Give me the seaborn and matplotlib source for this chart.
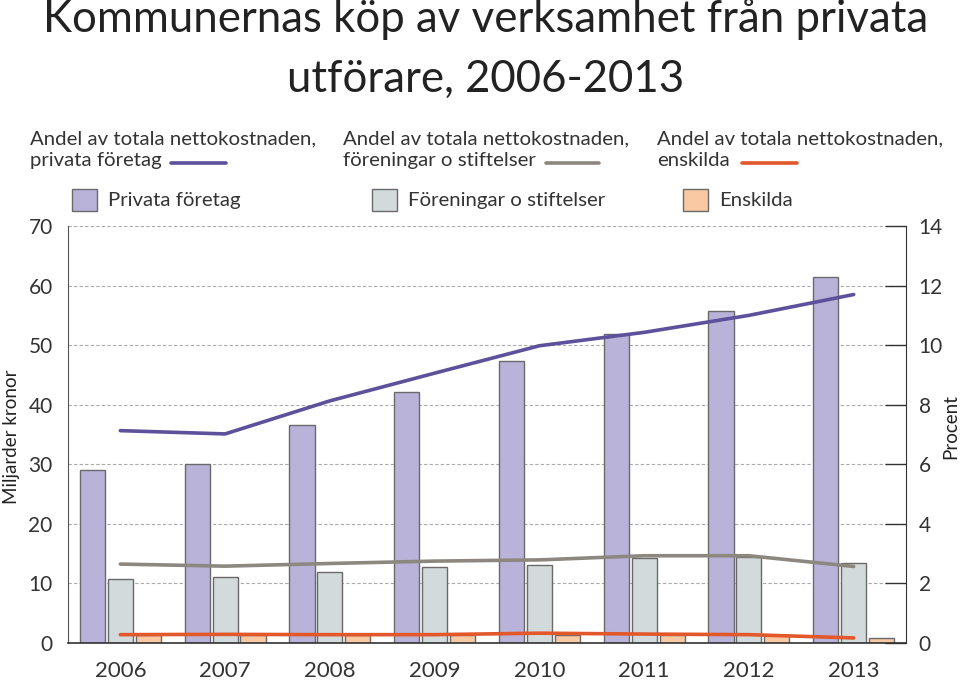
import matplotlib
matplotlib.use('Agg')
import matplotlib.pyplot as plt
import seaborn as sns
import pandas as pd
import numpy as np
from matplotlib.lines import Line2D
from matplotlib.patches import Rectangle

# Data
years = ['2006', '2007', '2008', '2009', '2010', '2011', '2012', '2013']
privata_mdkr = [29.0, 30.0, 36.6, 42.1, 47.4, 51.8, 55.8, 61.4]
foreningar_mdkr = [10.7, 11.0, 11.9, 12.7, 13.1, 14.2, 14.5, 13.5]
enskilda_mdkr = [1.3, 1.3, 1.3, 1.3, 1.3, 1.3, 1.3, 0.9]
privata_andel = [7.13, 7.02, 8.13, 9.06, 9.98, 10.43, 11.0, 11.7]
foreningar_andel = [2.65, 2.58, 2.67, 2.75, 2.79, 2.93, 2.93, 2.57]
enskilda_andel = [0.28, 0.29, 0.28, 0.28, 0.33, 0.30, 0.28, 0.17]

bar_labels = ['Privata företag', 'Föreningar o stiftelser', 'Enskilda']
line_labels = ['Andel av totala nettokostnaden,\nprivata företag',
               'Andel av totala nettokostnaden,\nföreningar o stiftelser',
               'Andel av totala nettokostnaden,\nenskilda']

bar_colors = ['#b9b3d9', '#d3dadc', '#f8c9a3']
line_colors = ['#5c519a', '#8e8780', '#e2582a']
edge = '#6a6a6a'
text_col = '#222222'
tick_col = '#333333'

sns.set_style('white')
plt.rcParams['font.family'] = ['Lato', 'DejaVu Sans']
plt.rcParams['text.color'] = text_col

df = pd.DataFrame({
    'År': years * 3,
    'Mdkr': privata_mdkr + foreningar_mdkr + enskilda_mdkr,
    'Typ': [bar_labels[0]] * 8 + [bar_labels[1]] * 8 + [bar_labels[2]] * 8,
})

fig = plt.figure(figsize=(9.6, 6.81), dpi=100)
ax = fig.add_axes([0.0708, 0.0558, 0.8730, 0.6123])

sns.barplot(data=df, x='År', y='Mdkr', hue='Typ', palette=bar_colors,
            width=0.8, gap=0.1, edgecolor=edge, linewidth=1.0,
            saturation=1, legend=False, ax=ax)

ax.set_xlim(-0.5, len(years) - 0.5)
ax.set_ylim(0, 70)
ax.set_yticks(range(0, 71, 10))
ax.set_axisbelow(True)
ax.yaxis.grid(True, linestyle=(0, (3, 2)), color='#aaaaaa', linewidth=0.8)
ax.xaxis.grid(False)
ax.set_xlabel('')
ax.set_ylabel('Miljarder kronor', fontsize=13.5, color=text_col)
ax.yaxis.set_label_coords(-0.057, 0.494)
ax.tick_params(axis='y', length=0, pad=11, labelsize=15, labelcolor=tick_col)
ax.tick_params(axis='x', which='major', length=0, pad=13, labelsize=16,
               labelcolor=tick_col)
ax.set_xticks(np.arange(-0.5, len(years), 1), minor=True)
ax.tick_params(axis='x', which='minor', direction='in', length=6,
               width=1, color='#333333')
for s in ['top', 'right']:
    ax.spines[s].set_visible(False)
ax.spines['left'].set_color('#555555')
ax.spines['bottom'].set_color('#333333')
ax.spines['bottom'].set_linewidth(1.2)

# Percent lines on secondary axis
ax2 = ax.twinx()
xpos = np.arange(len(years))
for vals, col in zip([privata_andel, foreningar_andel, enskilda_andel], line_colors):
    sns.lineplot(x=xpos, y=vals, color=col, linewidth=2.6, ax=ax2)
ax2.set_ylim(0, 14)
ax2.set_yticks(range(0, 15, 2))
ax2.set_xlim(-0.5, len(years) - 0.5)
ax2.set_ylabel('Procent', fontsize=13.5, color=text_col)
ax2.yaxis.set_label_coords(1.043, 0.52)
ax2.tick_params(axis='y', direction='in', length=15, width=1, color='#333333',
                pad=9, labelsize=15, labelcolor=tick_col)
for s in ['top', 'left', 'bottom']:
    ax2.spines[s].set_visible(False)
ax2.spines['right'].set_color('#333333')
ax2.grid(False)

# Title
fig.text(0.506, 0.928, 'Kommunernas köp av verksamhet från privata\nutförare, 2006-2013',
         ha='center', va='center', fontsize=31.5, linespacing=1.55, color=text_col)

# Line legend (top row)
H = 681.0
W = 960.0
line_text_x = [30, 343, 657]
line_sample = [(171, 226), (546, 599), (742, 797)]
for lab, tx, (x0, x1), col in zip(line_labels, line_text_x, line_sample, line_colors):
    fig.text(tx / W, 1 - 150 / H, lab, ha='left', va='center', fontsize=14.7,
             linespacing=1.35, color='#333333')
    fig.add_artist(Line2D([x0 / W, x1 / W], [1 - 163 / H, 1 - 163 / H],
                          transform=fig.transFigure, color=col, linewidth=2.6))

# Bar legend (second row)
patch_x = [72, 372, 683]
for lab, px, col in zip(bar_labels, patch_x, bar_colors):
    fig.add_artist(Rectangle((px / W, 1 - 211 / H), 25 / W, 22 / H,
                             transform=fig.transFigure, facecolor=col,
                             edgecolor=edge, linewidth=1.0))
    fig.text((px + 36) / W, 1 - 200 / H, lab, ha='left', va='center',
             fontsize=14.7, color='#333333')

fig.savefig('out.png', dpi=100)
